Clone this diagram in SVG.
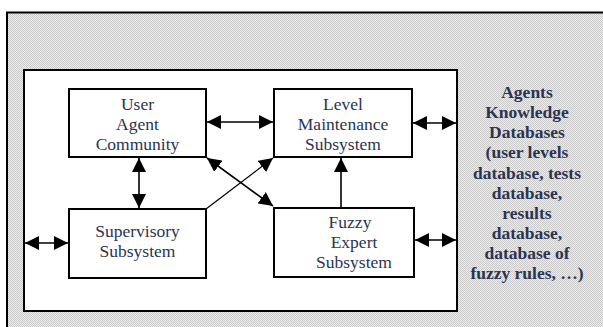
<svg xmlns="http://www.w3.org/2000/svg" width="603" height="327" viewBox="0 0 603 327">
<style>
.box{fill:#fff;stroke:#000;stroke-width:2}
.t{font-family:"Liberation Serif","Times New Roman",serif;font-size:17.5px;fill:#2a3452;text-anchor:middle}
.b{font-weight:bold}
.c{stroke:#000;stroke-width:1.6;fill:none}
.thin{stroke-width:1.2}
</style>
<defs>
<pattern id="dots" width="2" height="2" patternUnits="userSpaceOnUse">
<rect width="2" height="2" fill="#ebebeb"/>
<rect width="1" height="1" fill="#cbcbcb"/>
<rect x="1" y="1" width="1" height="1" fill="#cbcbcb"/>
</pattern>
<marker id="ah" markerUnits="userSpaceOnUse" markerWidth="15" markerHeight="14" refX="14" refY="7" orient="auto-start-reverse" viewBox="0 0 15 14">
<path d="M0,0 L14,7 L0,14 z" fill="#000"/>
</marker>
</defs>
<rect width="603" height="327" fill="#fff"/>
<rect x="7" y="12" width="596" height="315" fill="url(#dots)"/>
<path d="M7,327 V12.5 H603" fill="none" stroke="#000" stroke-width="2"/>
<g id="container">
<rect class="box" x="24" y="70" width="433" height="241"/>
</g>
<g id="user-agent-community">
<rect class="box" x="69" y="89" width="137" height="68"/>
<text class="t" x="137.5" y="110">User</text>
<text class="t" x="137.5" y="130">Agent</text>
<text class="t" x="137.5" y="150">Community</text>
</g>
<g id="level-maintenance">
<rect class="box" x="274" y="89" width="138" height="68"/>
<text class="t" x="343" y="110">Level</text>
<text class="t" x="343" y="130">Maintenance</text>
<text class="t" x="343" y="150">Subsystem</text>
</g>
<g id="supervisory">
<rect class="box" x="69" y="209" width="137" height="69"/>
<text class="t" x="137.5" y="237">Supervisory</text>
<text class="t" x="137.5" y="257">Subsystem</text>
</g>
<g id="fuzzy-expert">
<rect class="box" x="274" y="208" width="140" height="69"/>
<text class="t" x="350" y="228">Fuzzy</text>
<text class="t" x="354" y="248">Expert</text>
<text class="t" x="354" y="268">Subsystem</text>
</g>
<g id="knowledge-databases">
<text class="t b" x="527" y="98">Agents</text>
<text class="t b" x="527" y="118">Knowledge</text>
<text class="t b" x="527" y="138">Databases</text>
<text class="t b" x="527" y="158">(user levels</text>
<text class="t b" x="527" y="179">database, tests</text>
<text class="t b" x="527" y="199">database,</text>
<text class="t b" x="527" y="219">results</text>
<text class="t b" x="527" y="239">database,</text>
<text class="t b" x="527" y="259">database of</text>
<text class="t b" x="527" y="279">fuzzy rules, …)</text>
</g>
<g id="connectors">
<line class="c" x1="207" y1="122" x2="273" y2="122" marker-start="url(#ah)" marker-end="url(#ah)"/>
<line class="c" x1="139" y1="158" x2="139" y2="208" marker-start="url(#ah)" marker-end="url(#ah)"/>
<line class="c" x1="25" y1="243" x2="68" y2="243" marker-start="url(#ah)" marker-end="url(#ah)"/>
<line class="c" x1="413" y1="123" x2="456" y2="123" marker-start="url(#ah)" marker-end="url(#ah)"/>
<line class="c" x1="415" y1="240" x2="456" y2="240" marker-start="url(#ah)" marker-end="url(#ah)"/>
<line class="c" x1="341" y1="207" x2="341" y2="158" marker-end="url(#ah)"/>
<line class="c" x1="207" y1="158" x2="273" y2="206" marker-start="url(#ah)" marker-end="url(#ah)"/>
<line class="c thin" x1="206" y1="209" x2="273" y2="158" marker-end="url(#ah)"/>
</g>
</svg>
